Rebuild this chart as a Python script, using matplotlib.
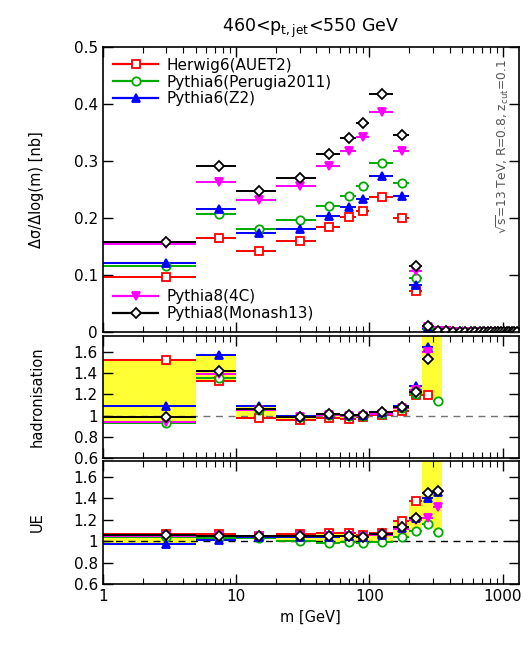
# -*- coding: utf-8 -*-
# Jet mass, 460 < pT < 550 GeV: MC generators + hadronisation / UE ratios
import numpy as np
import matplotlib
matplotlib.use("Agg")
import matplotlib.pyplot as plt
from matplotlib.lines import Line2D
from matplotlib.ticker import FuncFormatter, MultipleLocator

plt.rcParams.update({"font.family": "DejaVu Sans", "font.size": 11,
                     "xtick.direction": "in", "ytick.direction": "in",
                     "xtick.top": True, "ytick.right": True})

# ── Dados ─────────────────────────────────────────────────────────────────────
edges = [1, 5, 10, 20, 40, 60, 80, 100, 150, 200, 250, 300, 350, 400, 450, 500,
         550, 600, 650, 700, 750, 800, 850, 900, 950, 1000, 1050, 1100, 1150,
         1200, 1250, 1300]
labels = ["Herwig6(AUET2)", "Pythia6(Perugia2011)", "Pythia6(Z2)",
          "Pythia8(4C)", "Pythia8(Monash13)"]

herwig6 = [0.097, 0.165, 0.142, 0.159, 0.185, 0.201, 0.212, 0.236, 0.200, 0.072,
           0.005, 0.001, 0.001, 0.0, 0.0, 0.0, 0.0, 0.0, 0.0, 0.0, 0.0, 0.0, 0.0,
           0.0, 0.0, 0.0, 0.0, 0.0, 0.0, 0.0, 0.0]
perugia = [0.115, 0.207, 0.181, 0.196, 0.221, 0.238, 0.256, 0.297, 0.262, 0.094,
           0.006, 0.001, 0.001, 0.0, 0.0, 0.0, 0.0, 0.0, 0.0, 0.0, 0.0, 0.0, 0.0,
           0.0, 0.0, 0.0, 0.0, 0.0, 0.0, 0.0, 0.0]
z2 = [0.121, 0.216, 0.174, 0.180, 0.203, 0.219, 0.233, 0.273, 0.239, 0.083,
      0.007, 0.001, 0.001, 0.0, 0.0, 0.0, 0.0, 0.0, 0.0, 0.0, 0.0, 0.0, 0.0,
      0.0, 0.0, 0.0, 0.0, 0.0, 0.0, 0.0, 0.0]
p8_4c = [0.154, 0.263, 0.232, 0.256, 0.292, 0.317, 0.342, 0.386, 0.318, 0.107,
         0.008, 0.001, 0.001, 0.0, 0.0, 0.0, 0.0, 0.0, 0.0, 0.0, 0.0, 0.0, 0.0,
         0.0, 0.0, 0.0, 0.0, 0.0, 0.0, 0.0, 0.0]
monash = [0.157, 0.291, 0.248, 0.270, 0.312, 0.340, 0.367, 0.417, 0.346, 0.116,
          0.010, 0.001, 0.001, 0.0, 0.0, 0.0, 0.0, 0.0, 0.0, 0.0, 0.0, 0.0, 0.0,
          0.0, 0.0, 0.0, 0.0, 0.0, 0.0, 0.0, 0.0]

# ratios only for the first 12 bins (1 .. 350 GeV)
had_herwig6 = [1.52, 1.325, 0.98, 0.955, 0.975, 0.97, 0.99, 1.01, 1.04, 1.19, 1.195, 2.2]
had_perugia = [0.93, 1.35, 1.05, 0.99, 1.01, 1.0, 1.0, 1.02, 1.07, 1.20, 1.90, 1.14]
had_z2      = [1.095, 1.575, 1.095, 1.0, 1.02, 1.01, 1.01, 1.03, 1.09, 1.28, 1.645, 2.3]
had_4c      = [0.94, 1.39, 1.05, 0.99, 1.01, 1.0, 1.0, 1.02, 1.07, 1.24, 1.60, 2.1]
had_monash  = [0.99, 1.42, 1.065, 0.99, 1.015, 1.01, 1.01, 1.03, 1.08, 1.225, 1.535, 2.0]

ue_herwig6 = [1.07, 1.067, 1.05, 1.064, 1.073, 1.075, 1.06, 1.075, 1.19, 1.38, 2.0, 2.1]
ue_perugia = [1.04, 1.03, 1.03, 1.003, 0.987, 0.99, 0.987, 0.997, 1.04, 1.095, 1.16, 1.09]
ue_z2      = [0.97, 1.01, 1.04, 1.04, 1.04, 1.05, 1.04, 1.06, 1.12, 1.22, 1.40, 1.46]
ue_4c      = [1.05, 1.05, 1.045, 1.045, 1.045, 1.05, 1.04, 1.06, 1.11, 1.20, 1.22, 1.32]
ue_monash  = [1.055, 1.05, 1.045, 1.05, 1.045, 1.05, 1.04, 1.063, 1.137, 1.217, 1.447, 1.472]

# ── Estilos ───────────────────────────────────────────────────────────────────
STY = [dict(color="#ff0000", marker="s", mfc="white"),
       dict(color="#00aa00", marker="o", mfc="white"),
       dict(color="#0000ff", marker="^", mfc="#0000ff"),
       dict(color="#ff00ff", marker="v", mfc="#ff00ff"),
       dict(color="black", marker="D", mfc="white", ms=5)]

def desenha(ax, edg, series):
    e = np.array(edg, float)
    c = 0.5 * (e[:-1] + e[1:])
    for vals, st in zip(series, STY):
        st = dict(st); ms = st.pop("ms", 6)
        ax.errorbar(c, vals, xerr=[c - e[:-1], e[1:] - c], ls="none", lw=1.4,
                    capsize=0, mew=1.3, ms=ms, **st, clip_on=True)

def banda(ax, edg, series):
    e = np.array(edg, float)
    arr = np.array(series)
    lo, hi = arr.min(axis=0), arr.max(axis=0)
    ax.bar(e[:-1], hi - lo, width=np.diff(e), bottom=lo, align="edge",
           color="#ffff33", lw=0, zorder=0)

def eixo(ax):
    ax.set_xscale("log")
    ax.set_xlim(1, 1320)
    ax.tick_params(which="major", length=7, width=1)
    ax.tick_params(which="minor", length=4, width=0.8)
    for s in ax.spines.values():
        s.set_linewidth(1.2)

fig = plt.figure(figsize=(5.32, 6.48), dpi=100)
L, W = 0.193, 0.782
ax1 = fig.add_axes([L, 0.4877, W, 0.4398])
ax2 = fig.add_axes([L, 0.2930, W, 0.1885])
ax3 = fig.add_axes([L, 0.0988, W, 0.1898])

# ── Painel principal ──────────────────────────────────────────────────────────
main = [herwig6, perugia, z2, p8_4c, monash]
desenha(ax1, edges, main)
eixo(ax1)
ax1.set_ylim(0, 0.5)
ax1.yaxis.set_major_locator(MultipleLocator(0.1))
ax1.yaxis.set_major_formatter(FuncFormatter(lambda v, p: f"{v:g}"))
ax1.tick_params(labelbottom=False)
ax1.set_ylabel("Δσ/Δlog(m) [nb]", fontsize=10.5)
ax1.yaxis.set_label_coords(-0.14, 0.5)
ax1.set_title(r"460<p$_{\mathrm{t,jet}}$<550 GeV", fontsize=12.5, pad=11)
ax1.text(0.962, 0.65, r"$\sqrt{\rm s}$=13 TeV, R=0.8, z$_{\rm cut}$=0.1", rotation=90,
         transform=ax1.transAxes, ha="center", va="center", fontsize=8.8, color="#555555")

handles = []
for st in STY:
    st = dict(st); ms = st.pop("ms", 6)
    handles.append(Line2D([], [], lw=1.6, ms=ms, mew=1.3, **st))
kw = dict(frameon=False, fontsize=11, handlelength=2.9, labelspacing=0.12,
          handletextpad=0.6, borderaxespad=0.3)
leg1 = ax1.legend(handles[:3], labels[:3], loc="upper left", **kw)
ax1.add_artist(leg1)
ax1.legend(handles[3:], labels[3:], loc="lower left", **kw)

# ── Razões ────────────────────────────────────────────────────────────────────
had = [had_herwig6, had_perugia, had_z2, had_4c, had_monash]
ue = [ue_herwig6, ue_perugia, ue_z2, ue_4c, ue_monash]
for ax, ser, nome, dcol in [(ax2, had, "hadronisation", "0.45"), (ax3, ue, "UE", "black")]:
    banda(ax, edges[:13], ser)
    ax.axhline(1, color=dcol, lw=1, ls=(0, (5, 4)), zorder=1)
    desenha(ax, edges[:13], ser)
    eixo(ax)
    ax.set_ylim(0.6, 1.75)
    ax.yaxis.set_major_locator(MultipleLocator(0.2))
    ax.yaxis.set_major_formatter(FuncFormatter(lambda v, p: f"{v:g}"))
    ax.set_ylabel(nome, fontsize=10.5)
    ax.yaxis.set_label_coords(-0.14, 0.5)

ax2.tick_params(labelbottom=False)
ax3.xaxis.set_major_formatter(FuncFormatter(lambda v, p: f"{v:g}"))
ax3.set_xlabel("m [GeV]", fontsize=10.5)

fig.savefig("out.png", dpi=100)
